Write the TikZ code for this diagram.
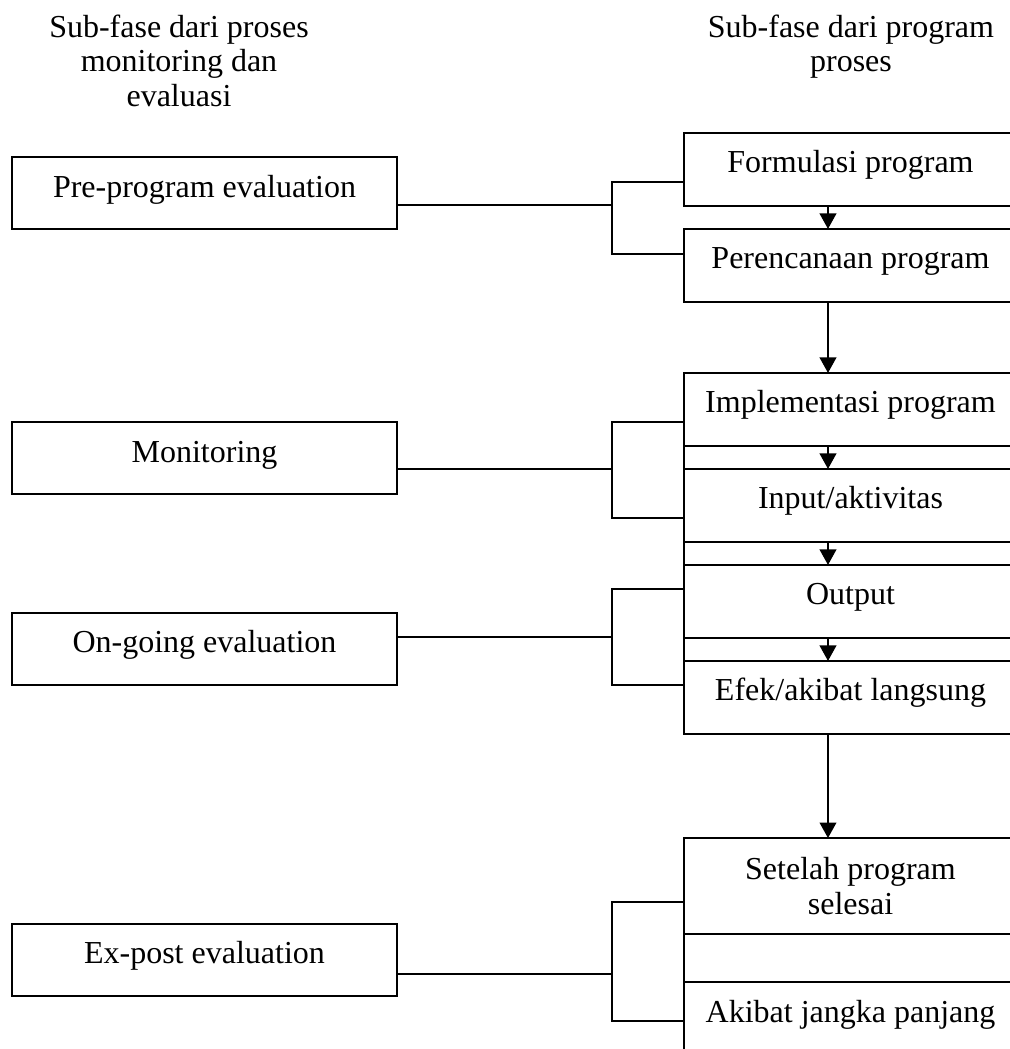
\documentclass[tikz,border=0pt]{standalone}
\usepackage{fontspec}
\setmainfont{Liberation Serif}
\usetikzlibrary{positioning,arrows.meta}

\begin{document}
\begin{tikzpicture}[
	x=0.375pt, y=0.375pt
	,every node/.append style={font=\fontsize{12}{13.1}\selectfont}
	,box/.style={draw, line width=0.8pt, inner ysep=0pt, outer sep=0pt}
	,l/.style={box, minimum width=144.4pt, minimum height=27pt, text height=15pt, text depth=12pt}
	,r/.style={box, minimum width=124.9pt, minimum height=27.4pt, text height=15pt, text depth=12.4pt}
	,rtall/.style={box, minimum width=124.9pt, minimum height=36pt, align=center}
	,head/.style={align=center, inner sep=0pt, anchor=north}
	,link/.style={line width=0.8pt}
	,flow/.style={link, -{Triangle[width=6.2pt,length=5.8pt]}}
]
	\useasboundingbox (0,0) rectangle (1010,1049);

	% column titles
	\node [head] (titleleft) at (179,1035) {Sub-fase dari proses\\monitoring dan\\evaluasi};
	\node [head] (titleright) at (851,1035) {Sub-fase dari program\\proses};

	% program stages
	\node [r] (formulasi) at (850.5,879.5) {Formulasi program};
	\node [r, below=8.6pt of formulasi] (perencanaan) {Perencanaan program};
	\node [r, below=26.6pt of perencanaan] (implementasi) {Implementasi program};
	\node [r, below=8.6pt of implementasi] (input) {Input/aktivitas};
	\node [r, below=8.6pt of input] (output) {Output};
	\node [r, below=8.6pt of output] (efek) {Efek/akibat langsung};
	\node [rtall, below=39pt of efek] (setelah) {Setelah program\\selesai};
	\node [r, below=18pt of setelah] (akibat) {Akibat jangka panjang};

	% monitoring and evaluation stages
	\node [l] (pre) at (204.5,856) {Pre-program evaluation};
	\node [l, below=72.4pt of pre] (monitoring) {Monitoring};
	\node [l, below=44.6pt of monitoring] (ongoing) {On-going evaluation};
	\node [l, below=89.6pt of ongoing] (expost) {Ex-post evaluation};

	\coordinate (axis) at (828,0);

	% flow of the program
	\draw [flow] (formulasi.south -| axis) -- (perencanaan.north -| axis);
	\draw [flow] (perencanaan.south -| axis) -- (implementasi.north -| axis);
	\draw [flow] (implementasi.south -| axis) -- (input.north -| axis);
	\draw [flow] (input.south -| axis) -- (output.north -| axis);
	\draw [flow] (output.south -| axis) -- (efek.north -| axis);
	\draw [flow] (efek.south -| axis) -- (setelah.north -| axis);
	\draw [link] (implementasi.north west) -- (efek.south west);
	\draw [link] (setelah.north west) -- (akibat.south west);

	% brackets
	\draw [link] (pre.east |- 0,844) -- (612,844);
	\draw [link] (formulasi.west |- 0,867) -| (612,795) -- (perencanaan.west |- 0,795);
	\draw [link] (monitoring.east |- 0,580) -- (612,580);
	\draw [link] (implementasi.west |- 0,627) -| (612,531) -- (input.west |- 0,531);
	\draw [link] (ongoing.east |- 0,412) -- (612,412);
	\draw [link] (output.west |- 0,460) -| (612,364) -- (efek.west |- 0,364);
	\draw [link] (expost.east |- 0,75) -- (612,75);
	\draw [link] (setelah.west |- 0,147) -| (612,28) -- (akibat.west |- 0,28);
\end{tikzpicture}
\end{document}
